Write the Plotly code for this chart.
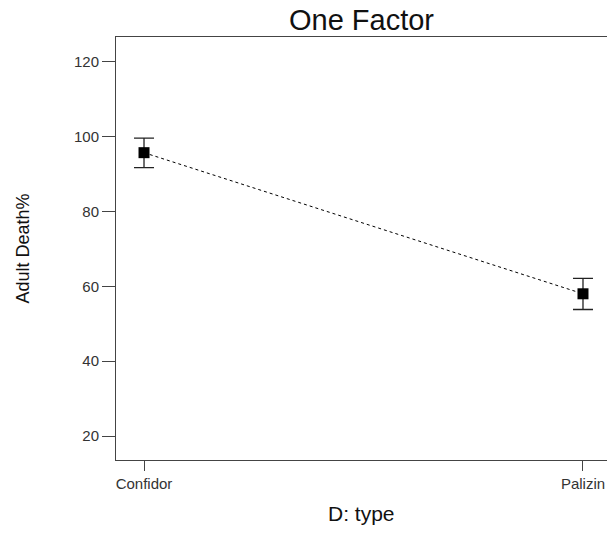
import plotly.graph_objects as go

categories = ["Confidor", "Palizin"]
means = [95.7, 58.0]
err_plus = [3.9, 4.1]
err_minus = [4.0, 4.2]
y_ticks = [20, 40, 60, 80, 100, 120]

fig = go.Figure()
fig.add_trace(go.Scatter(
    x=[0, 1], y=means, mode="lines+markers",
    line=dict(color="black", width=1, dash="3px,3px"),
    marker=dict(symbol="square", size=11, color="black"),
    error_y=dict(type="data", symmetric=False, array=err_plus, arrayminus=err_minus,
                 color="#222", thickness=1.3, width=10),
    showlegend=False,
))

fig.update_layout(
    width=607, height=550,
    margin=dict(l=116, r=0, t=37, b=90),
    paper_bgcolor="white", plot_bgcolor="white",
    font=dict(family="Liberation Sans, Arial", color="#333"),
    title=dict(text="One Factor", x=0.5, xref="paper", xanchor="center",
               y=1 - 20 / 550, yref="container", yanchor="middle",
               font=dict(size=29, color="#111")),
    xaxis=dict(range=[-0.0638, 1.0547], tickmode="array", tickvals=[0, 1],
               ticktext=categories, ticks="outside", ticklen=10, tickwidth=1,
               tickcolor="#444", showline=True, linecolor="#444", linewidth=1,
               mirror=True, showgrid=False, zeroline=False,
               tickfont=dict(size=15, color="#333")),
    yaxis=dict(range=[13.6, 126.6], tickmode="array", tickvals=y_ticks,
               ticks="outside", ticklen=13, tickwidth=1, tickcolor="#444",
               showline=True, linecolor="#444", linewidth=1, showgrid=False,
               zeroline=False, tickfont=dict(size=15, color="#333")),
    annotations=[
        dict(text="Adult Death%", xref="paper", yref="paper", x=0, y=0.5,
             xshift=-94, xanchor="center", yanchor="middle", textangle=-90,
             showarrow=False, font=dict(size=18, color="#111")),
        dict(text="D: type", xref="paper", yref="paper", x=0.5, y=0,
             yshift=-53, xanchor="center", yanchor="middle",
             showarrow=False, font=dict(size=21, color="#111")),
    ],
)

fig.write_html("out.html", config={"displayModeBar": False},
               post_script="document.body.style.margin='0';document.body.style.overflow='hidden';")
